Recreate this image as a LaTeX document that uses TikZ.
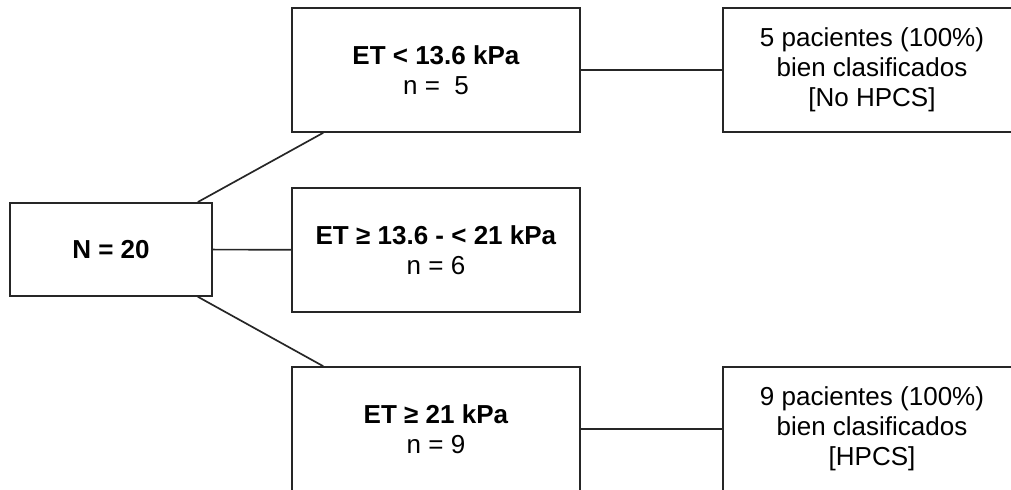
\documentclass[tikz,border=0pt]{standalone}
\usepackage{fontspec}
\setmainfont{Liberation Sans}

\begin{document}
\begin{tikzpicture}[line width=1.2pt,
  box/.style={draw=black!85,align=center,inner sep=0pt,font=\fontsize{18.5}{21.3}\selectfont}]
\clip (0,0) rectangle (25.275,12.225);
\node[box,minimum width=5.05cm,minimum height=2.325cm] at (2.775,5.99) (root) {\textbf{N = 20}};
\node[box,minimum width=7.2cm,minimum height=3.1cm] at (10.9,10.475) (low) {\textbf{ET < 13.6 kPa}\\n =\ \ 5};
\node[box,minimum width=7.2cm,minimum height=3.1cm] at (10.9,5.975) (mid) {\textbf{ET ≥ 13.6 - < 21 kPa}\\n = 6};
\node[box,minimum width=7.2cm,minimum height=3.1cm] at (10.9,1.5) (high) {\textbf{ET ≥ 21 kPa}\\n = 9};
\node[box,minimum width=7.45cm,minimum height=3.1cm] at (21.8,10.475) (lowres) {5 pacientes (100\%)\\bien clasificados\\{[No HPCS]}};
\node[box,minimum width=7.45cm,minimum height=3.1cm] at (21.8,1.5) (highres) {9 pacientes (100\%)\\bien clasificados\\{[HPCS]}};
\draw[black!85] ([xshift=-0.375cm]root.north east) -- ([xshift=0.8cm]low.south west);
\draw[black!85] (root) -- (mid);
\draw[black!85] ([xshift=-0.375cm]root.south east) -- ([xshift=0.8cm]high.north west);
\draw[black!85] (low) -- (lowres);
\draw[black!85] (high) -- (highres);
\end{tikzpicture}
\end{document}
